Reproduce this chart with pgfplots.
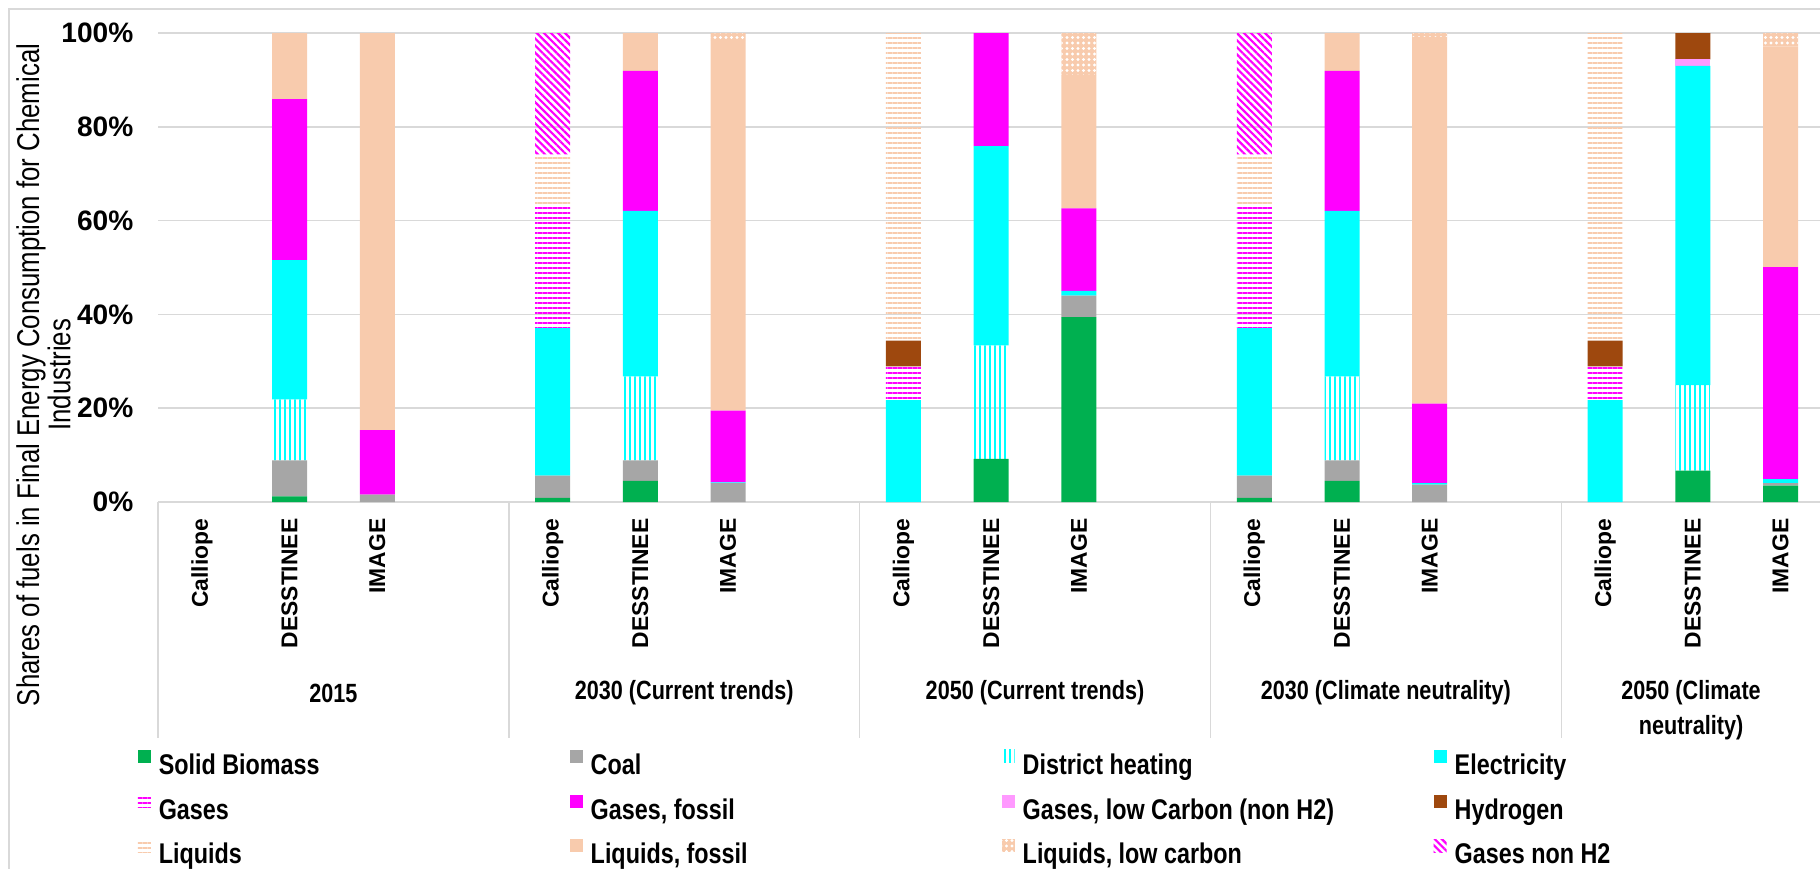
\documentclass[border=0pt]{standalone}
\usepackage{fontspec}
\setmainfont{Liberation Sans}
\newfontfamily\narrowfont{Liberation Sans}[FakeStretch=0.82]
\usepackage{pgfplots}
\pgfplotsset{compat=1.18}
\usepackage{pgfplotstable}
\usetikzlibrary{patterns.meta}

\definecolor{bio}{HTML}{00B050}
\definecolor{coal}{HTML}{A6A6A6}
\definecolor{elec}{HTML}{00FFFF}
\definecolor{gasf}{HTML}{FF00FF}
\definecolor{gaslc}{HTML}{FF99FF}
\definecolor{hydro}{HTML}{9E480E}
\definecolor{liq}{HTML}{F8CBAD}
\definecolor{gridc}{HTML}{D9D9D9}

\tikzset{
  grplabel/.style={font=\narrowfont\bfseries\fontsize{7.5}{10}\selectfont, align=center, anchor=center},
  separator/.style={gridc, line width=0.15mm},
}

% shares (%) per model and scenario; x = slot on the category axis
\pgfplotstableread{
x  SB   Coal DH   Elec Gas  GF   GLC H2  Liq  LF   LLC GnH
0  0    0    0    0    0    0    0   0   0    0    0   0
1  1.2  7.7  13.0 29.7 0    34.3 0   0   0    14.1 0   0
2  0    1.6  0    0    0    13.7 0   0   0    84.7 0   0
4  0.9  4.7  0    31.5 25.9 0    0   0   11.1 0    0   25.9
5  4.5  4.4  17.9 35.3 0    29.8 0   0   0    8.1  0   0
6  0    4.0  0    0.2  0    15.3 0   0   0    79.0 1.5 0
8  0    0    0    21.7 7.2  0    0   5.5 65.6 0    0   0
9  9.2  0    24.2 42.5 0    24.1 0   0   0    0    0   0
10 39.4 4.6  0    1.0  0    17.6 0   0   0    28.4 9.0 0
12 0.9  4.7  0    31.5 25.9 0    0   0   11.1 0    0   25.9
13 4.5  4.4  17.9 35.3 0    29.8 0   0   0    8.1  0   0
14 0    3.7  0    0.3  0    17.0 0   0   0    78.2 0.8 0
16 0    0    0    21.7 7.2  0    0   5.5 65.6 0    0   0
17 6.7  0    18.2 68.1 0    0    1.4 5.6 0    0    0   0
18 3.5  0.5  0    0.9  0    45.2 0   0   0    47.0 2.9 0
}\shares

\begin{document}
\begin{tikzpicture}
\begin{axis}[
  at={(15.8mm,36.6mm)}, anchor=south west,
  scale only axis, width=166.2mm, height=46.9mm,
  ybar stacked, bar width=3.5mm,
  xmin=-0.5, xmax=18.45, ymin=0, ymax=100,
  enlargelimits=false, clip=false,
  xtick={0,1,2,4,5,6,8,9,10,12,13,14,16,17,18},
  xticklabels={Calliope,DESSTINEE,IMAGE,Calliope,DESSTINEE,IMAGE,Calliope,DESSTINEE,IMAGE,Calliope,DESSTINEE,IMAGE,Calliope,DESSTINEE,IMAGE},
  xticklabel style={rotate=90, anchor=east, inner sep=0pt,
    font=\fontsize{6.5}{7.5}\selectfont\bfseries},
  xticklabel shift=1.6mm,
  ytick={0,20,40,60,80,100},
  /pgf/number format/assume math mode=true,
  yticklabel={\pgfmathprintnumber{\tick}\%},
  yticklabel style={anchor=east, inner sep=0pt, xshift=-2.4mm,
    font=\fontsize{8}{9}\selectfont\bfseries},
  major tick length=0pt, tick style={draw=none},
  axis line style={draw=none},
  ymajorgrids, grid style={draw=gridc, line width=0.15mm},
  ylabel={Shares of fuels in Final Energy Consumption for Chemical\\Industries},
  ylabel style={at={(axis description cs:-0.0689,0.271)}, anchor=center,
    align=center, font=\narrowfont\fontsize{8.95}{8.9}\selectfont},
  legend columns=4,
  legend style={draw=none, fill=none, inner sep=0pt,
    at={(axis description cs:-0.0126,-0.527)}, anchor=north west,
    row sep=1.5mm,
    nodes={inner xsep=0.8mm, inner ysep=0pt, text height=2.1mm, text depth=0.5mm},
    font=\narrowfont\bfseries\fontsize{8.1}{9}\selectfont},
  legend image code/.code={\fill[#1] (0mm,0.37mm) rectangle (1.3mm,1.67mm);},
]
\addplot[draw=none, fill=bio] table[x=x, y=SB] {\shares};
\addlegendentry{\makebox[40.3mm][l]{Solid Biomass}}
\addplot[draw=none, fill=coal] table[x=x, y=Coal] {\shares};
\addlegendentry{\makebox[40.3mm][l]{Coal}}
\addplot[draw=none, pattern={Lines[angle=90, distance=0.5mm, line width=0.2mm]}, pattern color=elec] table[x=x, y=DH] {\shares};
\addlegendentry{\makebox[40.3mm][l]{District heating}}
\addplot[draw=none, fill=elec] table[x=x, y=Elec] {\shares};
\addlegendentry{\makebox[40.3mm][l]{Electricity}}
\addplot[draw=none, pattern={Lines[angle=0, distance=0.5mm, line width=0.15mm]}, pattern color=gasf] table[x=x, y=Gas] {\shares};
\addlegendentry{\makebox[40.3mm][l]{Gases}}
\addplot[draw=none, fill=gasf] table[x=x, y=GF] {\shares};
\addlegendentry{\makebox[40.3mm][l]{Gases, fossil}}
\addplot[draw=none, fill=gaslc] table[x=x, y=GLC] {\shares};
\addlegendentry{\makebox[40.3mm][l]{Gases, low Carbon (non H2)}}
\addplot[draw=none, fill=hydro] table[x=x, y=H2] {\shares};
\addlegendentry{\makebox[40.3mm][l]{Hydrogen}}
\addplot[draw=none, pattern={Lines[angle=0, distance=0.5mm, line width=0.15mm]}, pattern color=liq] table[x=x, y=Liq] {\shares};
\addlegendentry{\makebox[40.3mm][l]{Liquids}}
\addplot[draw=none, fill=liq] table[x=x, y=LF] {\shares};
\addlegendentry{\makebox[40.3mm][l]{Liquids, fossil}}
\addplot[draw=none, fill=liq, postaction={pattern={Dots[distance=0.55mm, radius=0.17mm]}, pattern color=white}] table[x=x, y=LLC] {\shares};
\addlegendentry{\makebox[40.3mm][l]{Liquids, low carbon}}
\addplot[draw=none, pattern={Lines[angle=-45, distance=0.5mm, line width=0.22mm]}, pattern color=gasf] table[x=x, y=GnH] {\shares};
\addlegendentry{\makebox[40.3mm][l]{Gases non H2}}

% scenario separators and names below the model labels
\draw[separator] (axis cs:-0.5,0) -- ([yshift=-23.6mm]axis cs:-0.5,0);
\draw[separator] (axis cs:3.5,0) -- ([yshift=-23.6mm]axis cs:3.5,0);
\draw[separator] (axis cs:7.5,0) -- ([yshift=-23.6mm]axis cs:7.5,0);
\draw[separator] (axis cs:11.5,0) -- ([yshift=-23.6mm]axis cs:11.5,0);
\draw[separator] (axis cs:15.5,0) -- ([yshift=-23.6mm]axis cs:15.5,0);
\node[grplabel] at (axis cs:1.5,0) [yshift=-19.1mm] {2015};
\node[grplabel] at (axis cs:5.5,0) [yshift=-19.1mm] {2030 (Current trends)};
\node[grplabel] at (axis cs:9.5,0) [yshift=-19.1mm] {2050 (Current trends)};
\node[grplabel] at (axis cs:13.5,0) [yshift=-19.1mm] {2030 (Climate neutrality)};
\node[grplabel] at (axis cs:16.98,0) [yshift=-20.85mm] {2050 (Climate\\neutrality)};
\end{axis}
% chart frame
\draw[gridc, line width=0.15mm] (0.9mm,-5mm) -- (0.9mm,85.9mm) -- (190mm,85.9mm);
\pgfresetboundingbox
\path[use as bounding box] (0,0) rectangle (182mm,86.8mm);
\end{tikzpicture}
\end{document}
